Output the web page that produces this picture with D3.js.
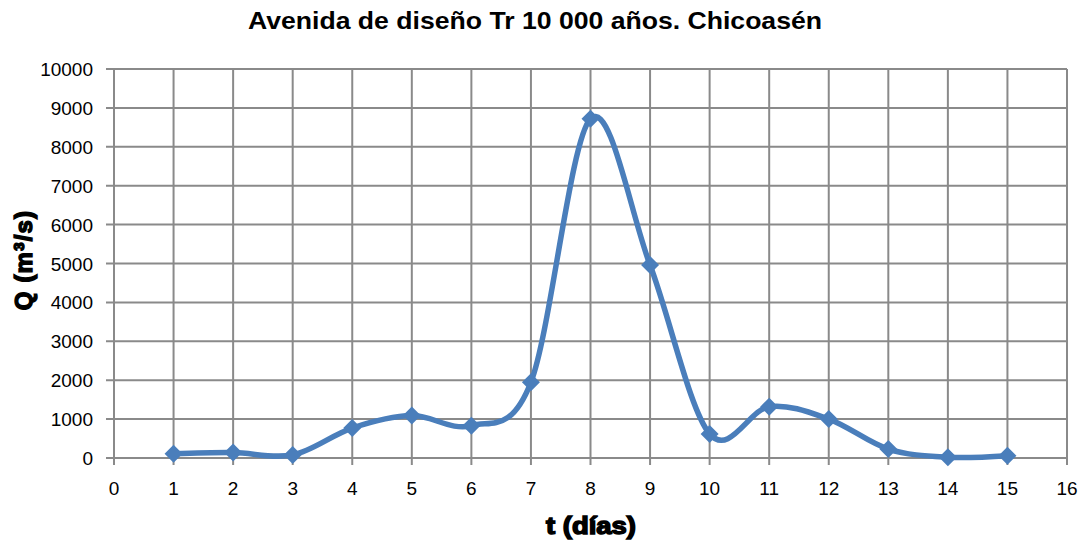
<!DOCTYPE html>
<html><head><meta charset="utf-8">
<script src="https://cdn.jsdelivr.net/npm/d3@7"></script>
<style>body{margin:0;background:#fff}svg{display:block}text{font-family:"Liberation Sans",Arial,sans-serif}</style>
</head><body><svg id="c" width="1079" height="540"></svg>
<script>
const days = [1,2,3,4,5,6,7,8,9,10,11,12,13,14,15];
const flows = [110,140,80,770,1090,830,1950,8720,4960,620,1320,1000,230,20,60];
const xTicks = d3.range(0,17,1);
const yTicks = d3.range(0,10001,1000);
const title = "Avenida de diseño Tr 10 000 años. Chicoasén";
const xLabel = "t (días)";

const svg = d3.select("#c");
const L=114, R=1067, T=69, B=458;
const x = d3.scaleLinear().domain([0,16]).range([L,R]);
const y = d3.scaleLinear().domain([0,10000]).range([B,T]);
const grid="#8a8a8a";

svg.append("g").selectAll("line").data(yTicks).join("line")
  .attr("x1",L-8).attr("x2",R).attr("y1",d=>y(d)).attr("y2",d=>y(d))
  .attr("stroke",grid).attr("stroke-width",2);
svg.append("g").selectAll("line").data(xTicks).join("line")
  .attr("x1",d=>x(d)).attr("x2",d=>x(d)).attr("y1",T).attr("y2",B+7)
  .attr("stroke",grid).attr("stroke-width",2);

svg.append("g").selectAll("text").data(yTicks).join("text")
  .attr("x",L-21).attr("y",d=>y(d)+7).attr("text-anchor","end")
  .attr("font-size",19).attr("fill","#000").text(d=>d);
svg.append("g").selectAll("text").data(xTicks).join("text")
  .attr("x",d=>x(d)).attr("y",B+37).attr("text-anchor","middle")
  .attr("font-size",19).attr("fill","#000").text(d=>d);

const pts = days.map((d,i)=>[d,flows[i]]);
svg.append("path").datum(pts)
  .attr("d",d3.line().x(d=>x(d[0])).y(d=>y(d[1])).curve(d3.curveCardinal.tension(0)))
  .attr("fill","none").attr("stroke","#4a7ebb").attr("stroke-width",5.5);
svg.append("g").selectAll("path").data(pts).join("path")
  .attr("transform",d=>`translate(${x(d[0])},${y(d[1])})`)
  .attr("d","M0,-9L9,0L0,9L-9,0Z").attr("fill","#4a7ebb");

svg.append("text").attr("x",535).attr("y",29).attr("text-anchor","middle")
  .attr("font-size",24.5).attr("font-weight","bold").attr("textLength",574).attr("lengthAdjust","spacingAndGlyphs").text(title);
svg.append("text").attr("x",591).attr("y",534).attr("text-anchor","middle")
  .attr("font-size",23).attr("font-weight","bold").attr("stroke","#000").attr("stroke-width",1.4)
  .attr("textLength",90).attr("lengthAdjust","spacingAndGlyphs").text(xLabel);
const yl = svg.append("text").attr("transform","translate(32,260) rotate(-90)").attr("text-anchor","middle")
  .attr("font-size",24).attr("font-weight","bold").attr("stroke","#000").attr("stroke-width",1.4)
  .attr("letter-spacing",1.2);
yl.append("tspan").text("Q (m");
yl.append("tspan").attr("font-size",15).attr("dy",-8).text("3");
yl.append("tspan").attr("dy",8).text("/s)");
</script></body></html>
